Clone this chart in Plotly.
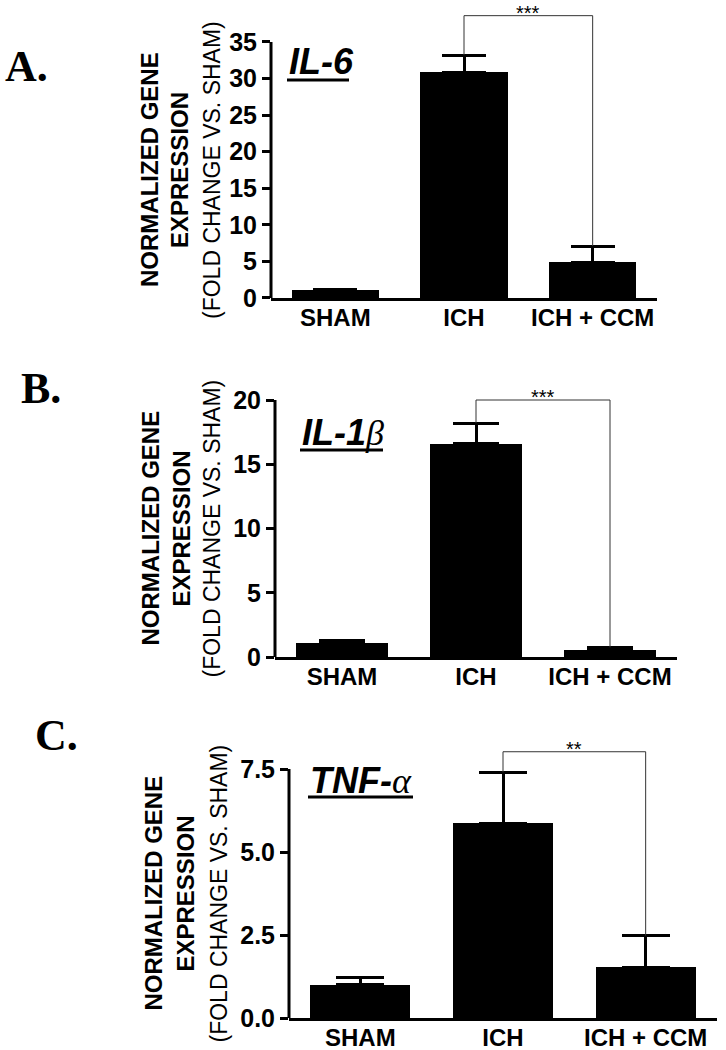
import plotly.graph_objects as go

# datos (media y error, sólo hacia arriba)
categorias = ["SHAM", "ICH", "ICH + CCM"]

il6_media = [1.0, 30.8, 4.8]
il6_error = [0.15, 2.4, 2.3]

il1b_media = [1.05, 16.6, 0.55]
il1b_error = [0.25, 1.6, 0.2]

tnfa_media = [1.0, 5.86, 1.52]
tnfa_error = [0.23, 1.54, 0.96]

il6_ticks = [0, 5, 10, 15, 20, 25, 30, 35]
il1b_ticks = [0, 5, 10, 15, 20]
tnfa_ticks = [0, 2.5, 5.0, 7.5]

# comparación ICH vs ICH + CCM
comparacion = [1, 2]
il6_sig, il1b_sig, tnfa_sig = "***", "***", "**"
il6_bracket, il1b_bracket, tnfa_bracket = 38.6, 20.0, 8.02

W, H = 726, 1050


def px(x):
    return x / W


def py(y):
    return 1 - y / H


FONT = "Liberation Sans"
SERIF = "Liberation Serif"

paneles = [
    dict(letra="A.", gen="<b><i>IL-6</i></b>",
         media=il6_media, error=il6_error, ticks=il6_ticks, sig=il6_sig, bracket=il6_bracket,
         xpx=(271, 657), y0=298, ppu=(298 - 42) / 35, top=40, fmt="d", width=0.68, cap=22,
         letra_pos=(3, 67), gen_pos=(287, 62, 349, 80), ylab_x=(150, 180, 212)),
    dict(letra="B.", gen="<b><i>IL-1</i></b><span style='font-family:Liberation Serif'><i>β</i></span>",
         media=il1b_media, error=il1b_error, ticks=il1b_ticks, sig=il1b_sig, bracket=il1b_bracket,
         xpx=(275, 677), y0=657, ppu=(657 - 400) / 20, top=21, fmt="d", width=0.69, cap=23,
         letra_pos=(19, 389), gen_pos=(300, 432, 383, 450), ylab_x=(150, 181, 211)),
    dict(letra="C.", gen="<b><i>TNF-</i></b><span style='font-family:Liberation Serif'><i>α</i></span>",
         media=tnfa_media, error=tnfa_error, ticks=tnfa_ticks, sig=tnfa_sig, bracket=tnfa_bracket,
         xpx=(289, 717), y0=1018, ppu=(1018 - 769) / 7.5, top=8.4, fmt=".1f", width=0.70, cap=24,
         letra_pos=(33, 735), gen_pos=(308, 780, 413, 797), ylab_x=(153, 185, 218)),
]

fig = go.Figure()
annotations = []
shapes = []

for i, p in enumerate(paneles):
    n = "" if i == 0 else str(i + 1)
    xa, ya = "x" + n, "y" + n

    fig.add_trace(go.Bar(
        x=list(range(len(categorias))), y=p["media"],
        width=p["width"], marker=dict(color="black", line=dict(width=0)),
        error_y=dict(type="data", array=p["error"], arrayminus=[0] * len(categorias),
                     symmetric=False, color="black", thickness=3, width=p["cap"]),
        xaxis=xa, yaxis=ya, showlegend=False))

    # corchete de significancia
    a, b = comparacion
    fig.add_trace(go.Scatter(
        x=[a, a, b, b],
        y=[p["media"][a] + p["error"][a], p["bracket"], p["bracket"], p["media"][b] + p["error"][b]],
        mode="lines", line=dict(color="#333333", width=1),
        xaxis=xa, yaxis=ya, showlegend=False, hoverinfo="skip"))
    annotations.append(dict(x=(a + b) / 2, y=p["bracket"], xref=xa, yref=ya, text=p["sig"],
                            showarrow=False, yanchor="bottom", yshift=-10,
                            font=dict(size=20, family=FONT, color="black")))

    top_px = p["y0"] - p["ppu"] * p["top"]
    fig.update_layout({
        "xaxis" + n: dict(domain=[px(p["xpx"][0]), px(p["xpx"][1])], range=[-0.5, 2.5],
                          anchor=ya, tickvals=list(range(len(categorias))), ticktext=categorias,
                          showline=True, linewidth=3, linecolor="black", ticks="",
                          ticklabelstandoff=-4,
                          showgrid=False, zeroline=False, fixedrange=True, automargin=False,
                          tickfont=dict(size=24, family=FONT, weight="bold", color="black")),
        "yaxis" + n: dict(domain=[py(p["y0"]), py(top_px)], range=[0, p["top"]],
                          anchor=xa, tickvals=p["ticks"], tickformat=p["fmt"],
                          showline=False, ticks="outside", ticklen=8, tickwidth=3,
                          tickcolor="black", showgrid=False, zeroline=False, automargin=False,
                          fixedrange=True,
                          tickfont=dict(size=25, family=FONT, weight="bold", color="black")),
    })

    # línea del eje y hasta el último tick
    shapes.append(dict(type="line", xref=xa + " domain", yref=ya, x0=0, x1=0,
                       y0=0, y1=max(p["ticks"]), line=dict(color="black", width=3)))

    # letra del panel
    annotations.append(dict(x=px(p["letra_pos"][0]), y=py(p["letra_pos"][1]), xref="paper", yref="paper",
                            text="<b>" + p["letra"] + "</b>", showarrow=False,
                            xanchor="left", yanchor="middle",
                            font=dict(size=44, family=SERIF, color="black")))

    # nombre del gen subrayado
    gx, gy, gx1, gu = p["gen_pos"]
    annotations.append(dict(x=px(gx), y=py(gy), xref="paper", yref="paper", text=p["gen"],
                            showarrow=False, xanchor="left", yanchor="middle",
                            font=dict(size=36, family=FONT, color="black")))
    shapes.append(dict(type="line", xref="paper", yref="paper", x0=px(gx), x1=px(gx1),
                       y0=py(gu), y1=py(gu), line=dict(color="black", width=3)))

    # título del eje y en tres líneas
    yc = py(p["y0"] - p["ppu"] * max(p["ticks"]) / 2)
    lineas = [("NORMALIZED GENE", "bold", 24), ("EXPRESSION", "bold", 24),
              ("(FOLD CHANGE VS. SHAM)", "normal", 23)]
    for (txt, peso, tam), lx in zip(lineas, p["ylab_x"]):
        annotations.append(dict(x=px(lx), y=yc, xref="paper", yref="paper", text=txt,
                                showarrow=False, textangle=-90, xanchor="center", yanchor="middle",
                                font=dict(size=tam, family=FONT, weight=peso, color="black")))

fig.update_layout(
    width=W, height=H,
    margin=dict(l=0, r=0, t=0, b=0),
    paper_bgcolor="white", plot_bgcolor="white",
    font=dict(family=FONT, color="black"),
    annotations=annotations, shapes=shapes,
    bargap=0,
)

# quitar el margen por defecto del body para que la figura empiece en (0, 0)
fig.write_html("out.html", config={"displayModeBar": False},
               post_script="document.body.style.margin='0';")
